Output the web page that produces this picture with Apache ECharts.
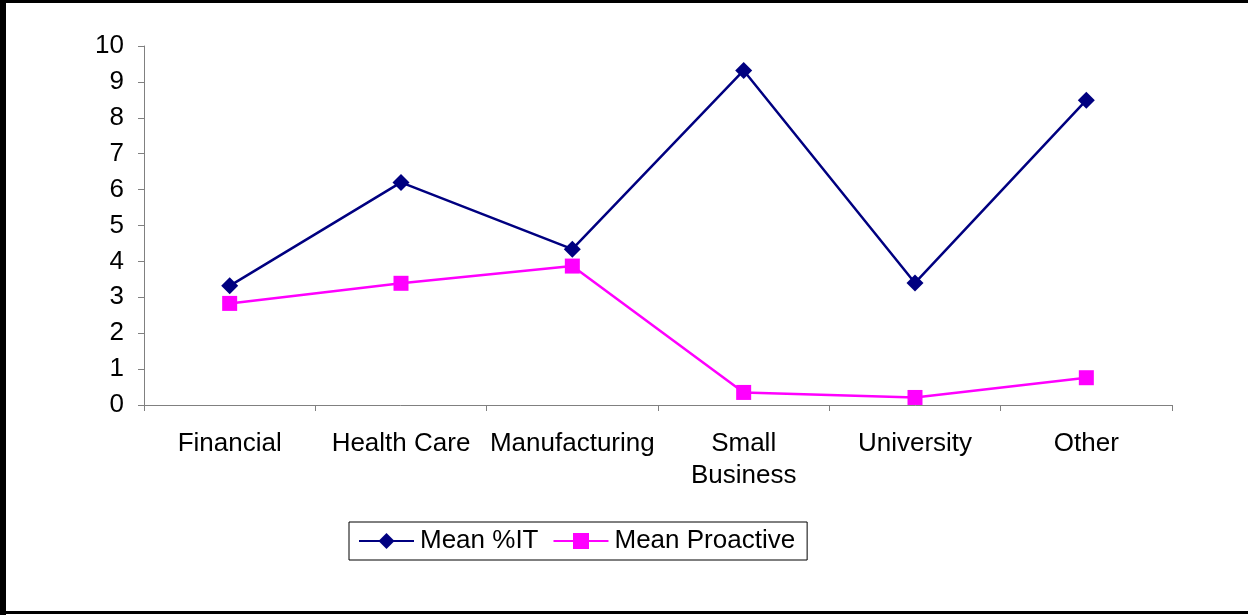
<!DOCTYPE html>
<html>
<head>
<meta charset="utf-8">
<script src="https://cdn.jsdelivr.net/npm/echarts@6/dist/echarts.min.js"></script>
<style>
  html, body { margin: 0; padding: 0; background: #fff; }
  #chart { width: 1248px; height: 615px; }
</style>
</head>
<body>
<div id="chart"></div>
<script>
// Sector categories along the x axis
const categories = ['Financial', 'Health Care', 'Manufacturing', 'Small\nBusiness', 'University', 'Other'];
// Series values
const meanIT = [3.32, 6.20, 4.34, 9.32, 3.40, 8.49];
const meanProactive = [2.83, 3.39, 3.87, 0.35, 0.21, 0.76];
// Y axis range
const yMin = 0, yMax = 10, yStep = 1;

const font = 'Arial, "Liberation Sans", sans-serif';
const chart = echarts.init(document.getElementById('chart'), null, { renderer: 'canvas' });

chart.setOption({
  animation: false,
  backgroundColor: '#ffffff',
  graphic: [
    // outer frame (right side runs past the canvas edge)
    { type: 'rect', shape: { x: 1.5, y: 1.5, width: 1260, height: 611 },
      style: { fill: 'none', stroke: '#000', lineWidth: 3 }, z: 100 },
    { type: 'rect', shape: { x: 0, y: 0, width: 6, height: 615 },
      style: { fill: '#000' }, z: 100 }
  ],
  grid: { left: 144, right: 76, top: 46, bottom: 210, containLabel: false },
  legend: {
    left: 349, top: 522,
    padding: [6, 12, 6, 9],
    itemGap: 14,
    itemWidth: 55, itemHeight: 20,
    borderColor: '#000', borderWidth: 1,
    textStyle: { fontFamily: font, fontSize: 26, color: '#000', padding: [0, 0, 0, 1], lineHeight: 26 },
    data: ['Mean %IT', 'Mean Proactive']
  },
  xAxis: {
    type: 'category',
    data: categories,
    boundaryGap: true,
    axisLine: { lineStyle: { color: '#808080', width: 1 } },
    axisTick: { show: true, length: 6, inside: false, lineStyle: { color: '#808080' } },
    axisLabel: { fontFamily: font, fontSize: 26, color: '#000', margin: 23, lineHeight: 32, interval: 0 },
    splitLine: { show: false }
  },
  yAxis: {
    type: 'value',
    min: yMin, max: yMax, interval: yStep,
    axisLine: { show: true, lineStyle: { color: '#808080', width: 1 } },
    axisTick: { show: true, length: 6, lineStyle: { color: '#808080' } },
    axisLabel: { fontFamily: font, fontSize: 26, color: '#000', margin: 20 },
    splitLine: { show: false }
  },
  series: [
    {
      name: 'Mean %IT', type: 'line', data: meanIT,
      symbol: 'diamond', symbolSize: 17,
      lineStyle: { color: '#000080', width: 2.5 },
      itemStyle: { color: '#000080' }
    },
    {
      name: 'Mean Proactive', type: 'line', data: meanProactive,
      symbol: 'rect', symbolSize: 15,
      lineStyle: { color: '#ff00ff', width: 2.5 },
      itemStyle: { color: '#ff00ff' }
    }
  ]
});
</script>
</body>
</html>
